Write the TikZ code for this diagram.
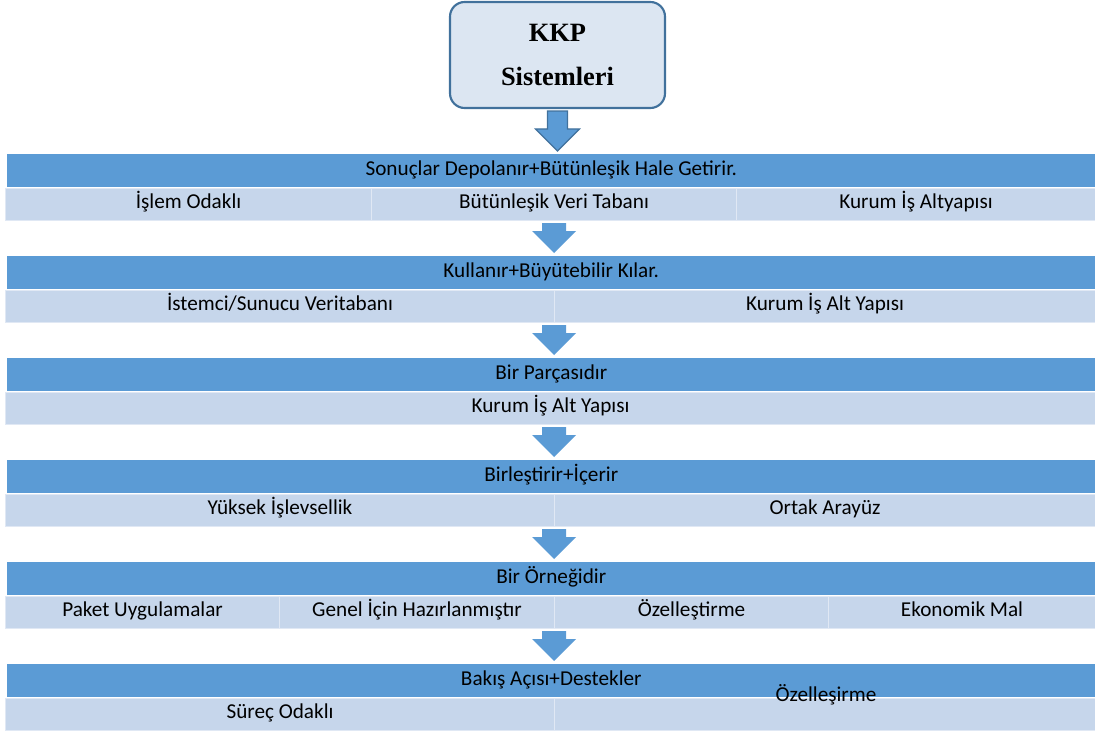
\documentclass[tikz,border=0pt]{standalone}
\usepackage{fontspec}
\setmainfont{Carlito}
\newfontfamily\headserif{Liberation Serif}
\usetikzlibrary{calc}
\definecolor{bandblue}{HTML}{5B9BD5}
\definecolor{rowblue}{HTML}{C6D6EB}
\definecolor{rowedge}{HTML}{E0E8F4}
\definecolor{titlefill}{HTML}{DCE6F2}
\definecolor{titleedge}{HTML}{41719C}
\newcommand\px{0.75pt}
\newcommand\cellfont{\fontsize{15.9}{18}\selectfont}
% block arrow between two named nodes: #2 upper node, #3 lower node,
% #4 centre coordinate, #5 shaft half width (px)
\newcommand\flowarrow[5][]{%
  \path[arrowbody,#1] let \p1=(#2.south), \p2=(#3.north), \p3=(#4) in
    (\x3-#5*\px,\y1-1.5pt) -- (\x3+#5*\px,\y1-1.5pt)
    -- (\x3+#5*\px,\y2+2.25pt+16.5pt) -- (\x3+16.5pt,\y2+2.25pt+16.5pt)
    -- (\x3,\y2+2.25pt)
    -- (\x3-16.5pt,\y2+2.25pt+16.5pt) -- (\x3-#5*\px,\y2+2.25pt+16.5pt)
    -- cycle;}
\begin{document}
\begin{tikzpicture}[x=0.75pt,y=-0.75pt,
  band/.style={anchor=north west, fill=bandblue, inner sep=0pt,
    minimum height=33*\px, minimum width=#1*\px, font=\cellfont,
    text height=0.64em, text depth=0pt},
  cell/.style={anchor=north west, fill=rowblue, draw=rowedge, line width=0.8pt,
    inner sep=0pt, minimum height=32*\px, minimum width=#1*\px, font=\cellfont,
    text height=0.64em, text depth=0pt},
  arrowbody/.style={fill=bandblue},
  titlebox/.style={draw=titleedge, line width=1.6pt, fill=titlefill,
    rounded corners=11pt, minimum width=215*\px, minimum height=106*\px,
    align=center, inner sep=0pt,
    font=\headserif\bfseries\fontsize{19.8}{33.5}\selectfont}]
\useasboundingbox (0,0) rectangle (1095,731);

\coordinate (axis) at (554,0);

% title
\node[titlebox] (kkp) at (557.5,55) {KKP\\Sistemleri};

% level 1
\node[band=1088] (b1) at (7,154) {Sonuçlar Depolanır+Bütünleşik Hale Getirir.};
\node[cell=366] (c1a) at (5,188) {İşlem Odaklı};
\node[cell=365] (c1b) at (371,188) {Bütünleşik Veri Tabanı};
\node[cell=359] (c1c) at (736,188) {Kurum İş Altyapısı};

% level 2
\node[band=1088] (b2) at (7,256) {Kullanır+Büyütebilir Kılar.};
\node[cell=549] (c2a) at (5,290) {İstemci/Sunucu Veritabanı};
\node[cell=541] (c2b) at (554,290) {Kurum İş Alt Yapısı};

% level 3
\node[band=1088] (b3) at (7,358) {Bir Parçasıdır};
\node[cell=1090] (c3a) at (5,392) {Kurum İş Alt Yapısı};

% level 4
\node[band=1088] (b4) at (7,460) {Birleştirir+İçerir};
\node[cell=549] (c4a) at (5,494) {Yüksek İşlevsellik};
\node[cell=541] (c4b) at (554,494) {Ortak Arayüz};

% level 5
\node[band=1088] (b5) at (7,562) {Bir Örneğidir};
\node[cell=274] (c5a) at (5,596) {Paket Uygulamalar};
\node[cell=275] (c5b) at (279,596) {Genel İçin Hazırlanmıştır};
\node[cell=274] (c5c) at (554,596) {Özelleştirme};
\node[cell=267] (c5d) at (828,596) {Ekonomik Mal};

% level 6
\node[band=1088] (b6) at (7,664) {Bakış Açısı+Destekler};
\node[cell=549] (c6a) at (5,698) {Süreç Odaklı};
\node[cell=541] (c6b) at (554,698) {};
\node[font=\cellfont, text height=0.64em, text depth=0pt, inner sep=0pt]
  (c6t) at (826,697) {Özelleşirme};

% connectors
\flowarrow[draw=titleedge, line width=0.9pt]{kkp}{b1}{kkp.south}{10}
\flowarrow{c1b}{b2}{axis}{12}
\flowarrow{c2a}{b3}{axis}{12}
\flowarrow{c3a}{b4}{axis}{12}
\flowarrow{c4a}{b5}{axis}{12}
\flowarrow{c5b}{b6}{axis}{12}
\end{tikzpicture}
\end{document}
